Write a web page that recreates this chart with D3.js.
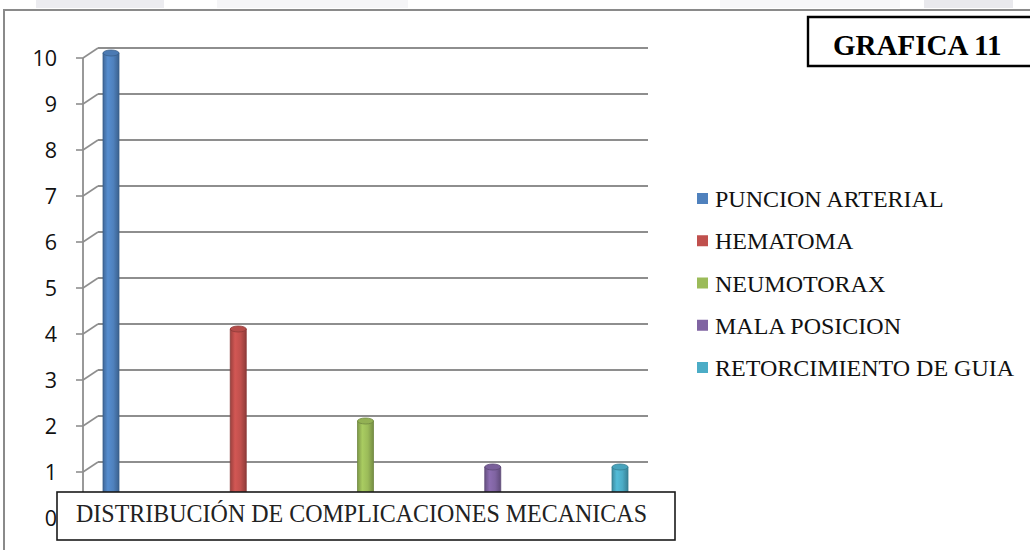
<!DOCTYPE html>
<html>
<head>
<meta charset="utf-8">
<script src="https://cdn.jsdelivr.net/npm/d3@7"></script>
<style>
  html, body { margin: 0; padding: 0; background: #fff; }
  svg { display: block; }
</style>
</head>
<body>
<svg id="chart" width="1030" height="550"></svg>
<script>
// Complicaciones mecánicas: número de casos por tipo
const categories = ["PUNCION ARTERIAL", "HEMATOMA", "NEUMOTORAX", "MALA POSICION", "RETORCIMIENTO DE GUIA"];
const values = [10, 4, 2, 1, 1];
const colors = ["#4F81BD", "#C0504D", "#9BBB59", "#8064A2", "#4BACC6"];
const yTicks = [0, 1, 2, 3, 4, 5, 6, 7, 8, 9, 10];
const chartTitle = "GRAFICA 11";
const axisTitle = "DISTRIBUCIÓN DE COMPLICACIONES MECANICAS";

const svg = d3.select("#chart");

// faint band along the top edge of the sheet
const band = [[36, 164, "#ececf0"], [217, 408, "#f5f5f7"], [720, 900, "#f6f6f8"], [924, 1013, "#e9e9ed"]];
svg.selectAll("rect.band").data(band).join("rect")
  .attr("x", d => d[0]).attr("y", 0).attr("width", d => d[1] - d[0]).attr("height", 8)
  .attr("fill", d => d[2]);

// chart area frame (top and left edges)
svg.append("path")
  .attr("d", "M4,550 L4,10 L1030,10")
  .attr("fill", "none").attr("stroke", "#8a8a8a").attr("stroke-width", 2);

// 3D depth offset of the back wall
const depthX = 15, depthY = 10;
const axisX = 83, wallRight = 648;

// back-wall scale (gridlines); front axis ticks sit depthY lower
const y = d3.scaleLinear().domain([0, 10]).range([508, 48]);
const x = d3.scalePoint().domain(categories).range([111, 620]);

const grid = svg.append("g");
// gridlines on the back wall
grid.selectAll("line.grid").data(yTicks.filter(v => v > 0)).join("line")
  .attr("x1", axisX + depthX).attr("x2", wallRight)
  .attr("y1", d => y(d)).attr("y2", d => y(d))
  .attr("stroke", "#8e8e8e").attr("stroke-width", 2);
// diagonal links from the axis to the back wall
grid.selectAll("line.diag").data(yTicks).join("line")
  .attr("x1", axisX).attr("y1", d => y(d) + depthY)
  .attr("x2", axisX + depthX).attr("y2", d => y(d))
  .attr("stroke", "#8e8e8e").attr("stroke-width", 1.6);
// tick marks
grid.selectAll("line.tick").data(yTicks).join("line")
  .attr("x1", axisX - 7).attr("x2", axisX)
  .attr("y1", d => y(d) + depthY).attr("y2", d => y(d) + depthY)
  .attr("stroke", "#8e8e8e").attr("stroke-width", 1.6);
// vertical axis line
grid.append("line")
  .attr("x1", axisX).attr("x2", axisX)
  .attr("y1", y(10) + depthY).attr("y2", y(0) + depthY)
  .attr("stroke", "#8e8e8e").attr("stroke-width", 1.8);

// tick labels
svg.append("g").selectAll("text").data(yTicks).join("text")
  .attr("x", 57).attr("y", d => y(d) + depthY + 8)
  .attr("text-anchor", "end")
  .attr("font-family", "'Open Sans', 'Liberation Sans', sans-serif")
  .attr("font-size", 21.5).attr("fill", "#111")
  .text(d => d);

// cylinder gradients
const defs = svg.append("defs");
colors.forEach((c, i) => {
  const base = d3.color(c);
  const g = defs.append("linearGradient").attr("id", "cyl" + i)
    .attr("x1", "0%").attr("x2", "100%").attr("y1", "0%").attr("y2", "0%");
  g.append("stop").attr("offset", "0%").attr("stop-color", base.darker(0.6));
  g.append("stop").attr("offset", "30%").attr("stop-color", base.brighter(0.25));
  g.append("stop").attr("offset", "65%").attr("stop-color", base);
  g.append("stop").attr("offset", "100%").attr("stop-color", base.darker(0.8));
});

// bars drawn at mid depth: top sits halfway between wall and front
const barW = 16, capRy = 3;
const barTop = v => y(v) + depthY / 2;
const barBase = barTop(0);
const bars = svg.append("g").selectAll("g").data(categories).join("g");
bars.append("path")
  .attr("d", (d, i) => {
    const cx = x(d), t = barTop(values[i]), l = cx - barW / 2, r = cx + barW / 2;
    return `M${l},${t} L${l},${barBase} A${barW / 2},${capRy} 0 0 0 ${r},${barBase} L${r},${t} Z`;
  })
  .attr("fill", (d, i) => `url(#cyl${i})`)
  .attr("stroke", (d, i) => d3.color(colors[i]).darker(0.9))
  .attr("stroke-width", 0.8);
bars.append("ellipse")
  .attr("cx", d => x(d)).attr("cy", (d, i) => barTop(values[i]))
  .attr("rx", barW / 2).attr("ry", capRy)
  .attr("fill", (d, i) => d3.color(colors[i]).darker(0.15))
  .attr("stroke", (d, i) => d3.color(colors[i]).darker(0.9))
  .attr("stroke-width", 0.8);

// axis title box covering the floor
svg.append("rect")
  .attr("x", 57).attr("y", 492).attr("width", 618).attr("height", 48)
  .attr("fill", "#fff").attr("stroke", "#1a1a1a").attr("stroke-width", 1.6);
svg.append("text")
  .attr("x", 76).attr("y", 522)
  .attr("font-family", "'Liberation Serif', serif")
  .attr("font-size", 25).attr("fill", "#222")
  .attr("textLength", 571).attr("lengthAdjust", "spacingAndGlyphs")
  .text(axisTitle);

// legend
const legend = svg.append("g").selectAll("g").data(categories).join("g")
  .attr("transform", (d, i) => `translate(697, ${199 + i * 42.25})`);
legend.append("rect")
  .attr("x", 0).attr("y", -6).attr("width", 11).attr("height", 11)
  .attr("fill", (d, i) => colors[i]);
legend.append("text")
  .attr("x", 18).attr("y", 8)
  .attr("font-family", "'Liberation Serif', 'Times New Roman', serif")
  .attr("font-size", 24).attr("fill", "#111")
  .text(d => d);

// chart title box
svg.append("path")
  .attr("d", "M1032,17 L808,17 L808,66 L1032,66")
  .attr("fill", "#fff").attr("stroke", "#000").attr("stroke-width", 2.4);
svg.append("text")
  .attr("x", 833).attr("y", 55)
  .attr("font-family", "'Liberation Serif', 'Times New Roman', serif")
  .attr("font-weight", "bold").attr("font-size", 29).attr("fill", "#000")
  .text(chartTitle);
</script>
</body>
</html>
